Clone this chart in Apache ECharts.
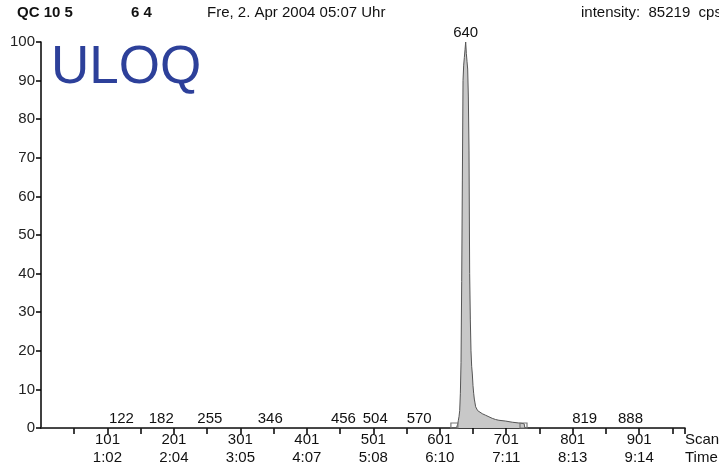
<!DOCTYPE html>
<html>
<head>
<meta charset="utf-8">
<script src="https://cdn.jsdelivr.net/npm/echarts@6/dist/echarts.min.js"></script>
<style>
html,body{margin:0;padding:0;background:#fff;}
#chart{width:719px;height:469px;}
</style>
</head>
<body>
<div id="chart"></div>
<script>
// Trace: scan numbers and relative intensity (%)
const scans = [1, 620, 626, 627, 628, 629, 630, 631, 632, 633, 634, 635, 636, 637, 638, 639, 640,
  641, 642, 643, 644, 645, 646, 647, 648, 649, 650, 651, 652, 653, 654, 655, 656, 658, 660,
  665, 670, 675, 680, 685, 690, 700, 710, 720, 728, 729, 970];
const intensity = [0, 0, 0, 0.3, 1, 2, 3, 4.5, 9, 17, 38, 64, 90, 94, 96, 98, 100,
  97, 95, 93, 86, 72, 40, 28, 20, 16, 14, 11, 9, 7.5, 6.5, 5.5, 5, 4.5, 4.2,
  3.7, 3.3, 2.9, 2.5, 2.2, 2.0, 1.8, 1.5, 1.3, 1.1, 0, 0];
// Peak annotations
const peakScans = [122, 182, 255, 346, 456, 504, 570, 640, 819, 888];
const peakHeights = [0, 0, 0, 0, 0, 0, 0, 100, 0, 0];
// Integration boundary markers
const boundaryScans = [623, 727];
// Axis tick labels
const scanTickLabels = ['101', '201', '301', '401', '501', '601', '701', '801', '901'];
const timeTickLabels = ['1:02', '2:04', '3:05', '4:07', '5:08', '6:10', '7:11', '8:13', '9:14'];
const yTicks = [0, 10, 20, 30, 40, 50, 60, 70, 80, 90, 100];

const font = 'Liberation Sans, Arial, Helvetica, sans-serif';
const chart = echarts.init(document.getElementById('chart'), null, {renderer: 'canvas'});

const traceData = scans.map((s, i) => [s, intensity[i]]);
const peakData = peakScans.map((s, i) => ({value: [s, peakHeights[i]], label: {formatter: String(s)}}));
const boundaryData = boundaryScans.map(s => [s, 0]);

chart.setOption({
  animation: false,
  backgroundColor: '#fff',
  grid: {left: 41, right: 34, top: 42, bottom: 41},
  xAxis: {
    type: 'value', min: 1, max: 970, interval: 50,
    splitLine: {show: false},
    axisLine: {lineStyle: {color: '#000', width: 1.5}},
    axisTick: {length: 6, lineStyle: {color: '#000', width: 1.5}},
    axisLabel: {
      margin: 3,
      showMinLabel: false,
      formatter: function (v) {
        const k = Math.round((v - 1) / 100) - 1;
        if ((v - 1) % 100 !== 0 || k < 0 || k >= scanTickLabels.length) return '';
        return '{a|' + scanTickLabels[k] + '}\n{a|' + timeTickLabels[k] + '}';
      },
      rich: {a: {fontFamily: font, fontSize: 15, color: '#111', lineHeight: 18}}
    }
  },
  yAxis: {
    type: 'value', min: 0, max: 100, interval: 10,
    splitLine: {show: false},
    axisLine: {show: true, lineStyle: {color: '#000', width: 1.5}},
    axisTick: {show: true, length: 5, lineStyle: {color: '#000', width: 1.5}},
    axisLabel: {margin: 6, fontFamily: font, fontSize: 15, color: '#222',
      formatter: v => yTicks.indexOf(v) >= 0 ? String(v) : ''}
  },
  series: [
    {
      type: 'line', data: traceData, symbol: 'none', smooth: false,
      lineStyle: {color: '#555', width: 1},
      areaStyle: {color: '#c8c8c8', opacity: 1},
      z: 2
    },
    {
      type: 'scatter', data: boundaryData, symbol: 'rect', symbolSize: [7, 5], symbolOffset: [0, -2.5],
      itemStyle: {color: 'rgba(0,0,0,0)', borderColor: '#777', borderWidth: 1, opacity: 1}, z: 3
    },
    {
      type: 'scatter', data: peakData, symbolSize: 0,
      itemStyle: {opacity: 1},
      label: {show: true, position: 'top', distance: 2, fontFamily: font, fontSize: 15, color: '#111'},
      z: 4
    }
  ],
  graphic: [
    {type: 'text', left: 17, top: 5, style: {text: 'QC 10 5', font: 'bold 15px ' + font, fill: '#111'}},
    {type: 'text', left: 131, top: 5, style: {text: '6 4', font: 'bold 15px ' + font, fill: '#111'}},
    {type: 'text', left: 207, top: 5, style: {text: 'Fre, 2. Apr 2004 05:07 Uhr', font: '15px ' + font, fill: '#111'}},
    {type: 'text', left: 581, top: 5, style: {text: 'intensity:  85219  cps', font: '15px ' + font, fill: '#111'}},
    {type: 'text', left: 51, top: 42, style: {text: 'ULOQ', font: '53px ' + font, fill: '#2d409a'}},
    {type: 'text', left: 685, top: 431, style: {text: 'Scan\nTime', font: '15px ' + font, fill: '#111', lineHeight: 18}}
  ]
});
</script>
</body>
</html>
